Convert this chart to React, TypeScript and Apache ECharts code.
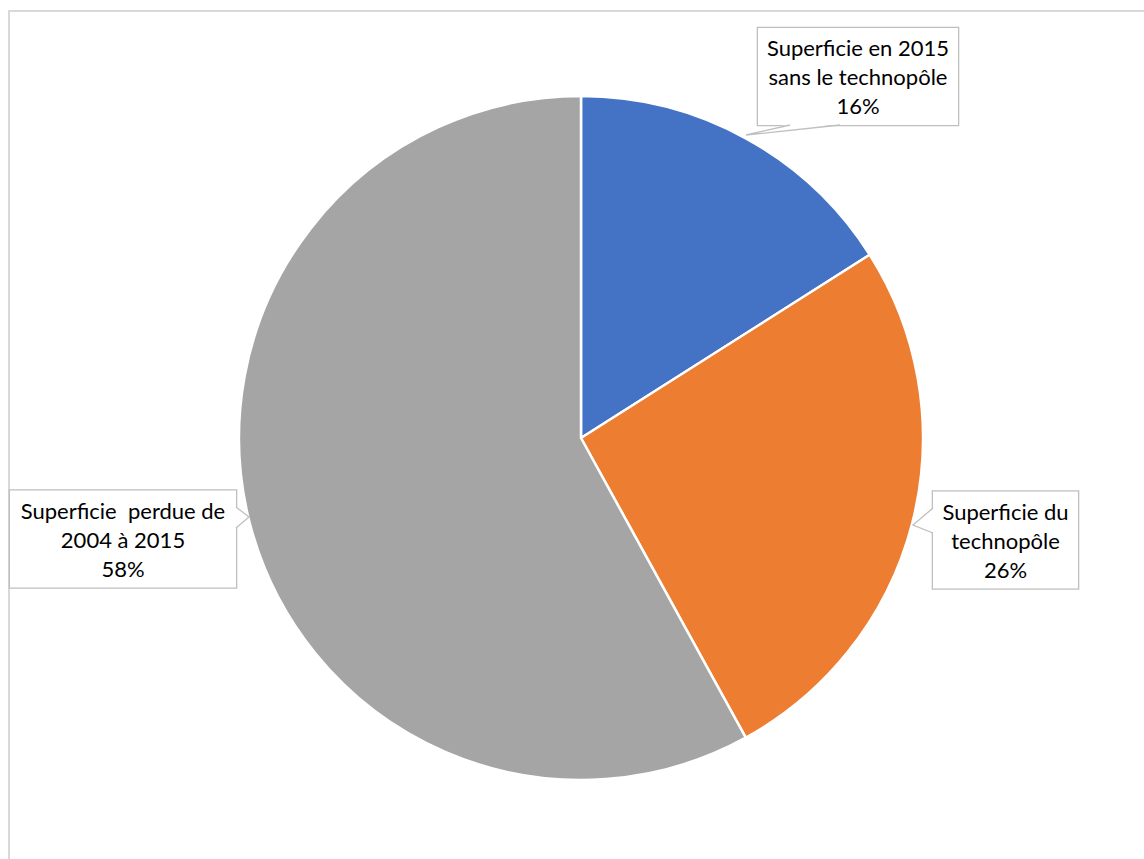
import React, { useEffect, useRef } from "react";
import * as echarts from "echarts";

const categories = [
  "Superficie en 2015\nsans le technopôle",
  "Superficie du\ntechnopôle",
  "Superficie  perdue de\n2004 à 2015",
];
const values = [16, 26, 58];
const colors = ["#4472C4", "#ED7D31", "#A5A5A5"];

// callout boxes: center x, center y, width (layout only)
const boxes = [
  { cx: 858, cy: 76.5, w: 200 },
  { cx: 1005.5, cy: 540, w: 145 },
  { cx: 123, cy: 539, w: 226 },
];

export default function App() {
  const ref = useRef<HTMLDivElement>(null);
  useEffect(() => {
    if (!ref.current) return;
    const chart = echarts.init(ref.current, undefined, { renderer: "svg" });
    const wedge = (pts: number[][], stroke: number[][]) => [
      {
        type: "polygon",
        z: 10,
        shape: { points: pts },
        style: { fill: "#ffffff", stroke: "none" },
      },
      {
        type: "polyline",
        z: 11,
        shape: { points: stroke },
        style: { stroke: "#bfbfbf", lineWidth: 1.3, fill: "none" },
      },
    ];
    chart.setOption({
      animation: false,
      backgroundColor: "#ffffff",
      graphic: [
        {
          type: "rect",
          z: 0,
          shape: { x: 9, y: 11, width: 1200, height: 900 },
          style: { fill: "none", stroke: "#d9d9d9", lineWidth: 2 },
        },
        ...wedge(
          [
            [790, 124],
            [746, 135],
            [840, 124],
          ],
          [
            [790, 125],
            [746, 135],
            [840, 125],
          ]
        ),
        ...wedge(
          [
            [235, 507],
            [249, 517],
            [235, 528],
          ],
          [
            [236, 507],
            [249, 517],
            [236, 528],
          ]
        ),
        ...wedge(
          [
            [934, 508],
            [913, 525],
            [934, 533],
          ],
          [
            [933, 508],
            [913, 525],
            [933, 533],
          ]
        ),
      ],
      series: [
        {
          type: "pie",
          center: [581, 438],
          radius: 342,
          startAngle: 90,
          clockwise: true,
          itemStyle: { borderColor: "#ffffff", borderWidth: 2.5 },
          data: categories.map((name, i) => ({
            name,
            value: values[i],
            itemStyle: { color: colors[i] },
          })),
          label: {
            show: true,
            position: "outside",
            formatter: (p: any) => `${p.name}\n${p.value}%`,
            fontFamily: "Lato",
            fontSize: 22,
            lineHeight: 29,
            color: "#000000",
            align: "center",
            backgroundColor: "#ffffff",
            borderColor: "#bfbfbf",
            borderWidth: 1.3,
            padding: [7, 0, 3, 0],
          },
          labelLine: { show: false },
          labelLayout: (params: any) => {
            const b = boxes[params.dataIndex];
            return {
              x: b.cx,
              y: b.cy,
              align: "center",
              verticalAlign: "middle",
              width: b.w,
            };
          },
        },
      ],
    });
    return () => chart.dispose();
  }, []);
  return (
    <div
      ref={ref}
      style={{ position: "absolute", left: 0, top: 0, width: 1144, height: 859 }}
    />
  );
}
